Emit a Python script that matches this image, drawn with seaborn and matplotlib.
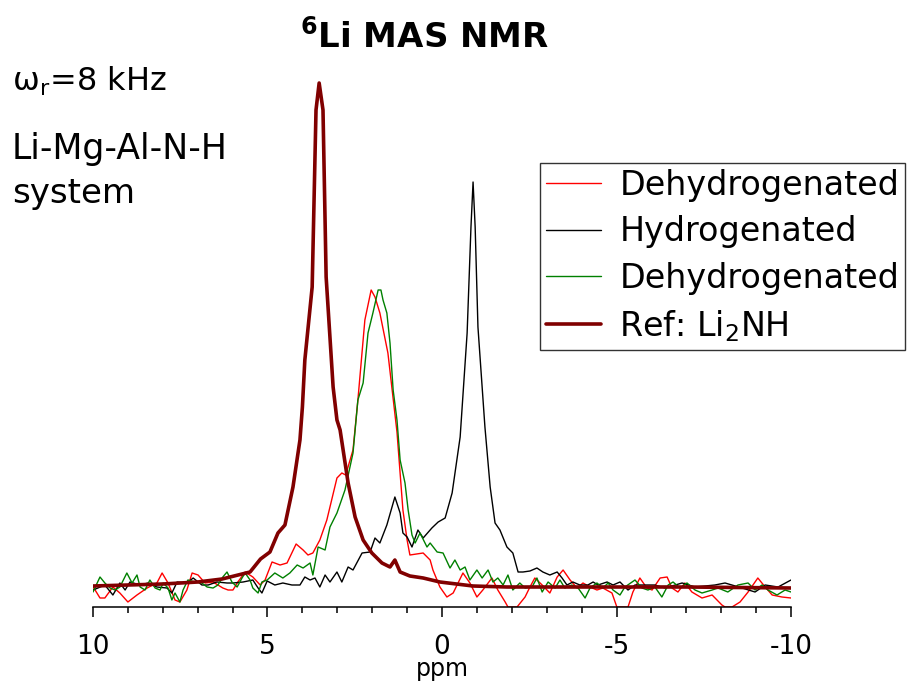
import matplotlib
matplotlib.use("Agg")
import matplotlib.pyplot as plt
import seaborn as sns
import pandas as pd
from matplotlib.ticker import MultipleLocator

# ---------------- data ----------------
red_ppm = [10.0, 9.94, 9.80, 9.66, 9.43, 9.23, 9.00, 8.74, 8.45, 8.17, 8.02, 7.85, 7.65, 7.51, 7.31, 7.16,
           6.99, 6.79, 6.56, 6.28, 6.13, 5.99, 5.85, 5.64, 5.42, 5.21, 5.07, 4.87, 4.64, 4.44, 4.18, 3.98,
           3.84, 3.70, 3.50, 3.30, 3.01, 2.87, 2.76, 2.55, 2.41, 2.21, 2.03, 1.92, 1.78, 1.55, 1.29, 1.12,
           1.00, 0.92, 0.54, 0.34, 0.26, 0.06, -0.14, -0.32, -0.60, -0.80, -1.00, -1.17, -1.43, -1.60,
           -1.81, -1.89, -2.15, -2.38, -2.52, -2.66, -2.87, -3.09, -3.30, -3.47, -3.67, -3.87, -4.04,
           -4.24, -4.44, -4.61, -4.87, -5.01, -5.33, -5.47, -5.67, -5.87, -6.02, -6.25, -6.45, -6.59,
           -6.76, -6.96, -7.16, -7.45, -7.74, -8.02, -8.11, -8.31, -8.54, -8.77, -9.05, -9.26, -9.46,
           -9.74, -10.0]
red_int = [0, -3, -11, -11, 0, -6, -15, -8, -1, 4, 14, 4, -13, -15, -3, 14,
           12, 4, 5, -1, -3, -3, 5, 15, 10, 2, 7, 25, 22, 24, 43, 37,
           32, 34, 47, 67, 109, 114, 112, 137, 187, 267, 297, 290, 274, 234, 155, 77,
           47, 32, 34, 27, 17, 0, -10, -6, 14, 4, -10, -3, 9, -3,
           -15, -20, -20, -10, 0, 9, 2, -6, 10, 17, 7, -1, 4,
           0, -3, -1, -6, -20, -20, -5, 9, -1, -3, 9, 10, -1,
           -5, 4, -5, -11, -8, -18, -20, -20, -15, -5, 9, 0, -8,
           -10, -11]

black_ppm = [10.0, 9.86, 9.66, 9.43, 9.23, 9.08, 8.94, 8.65, 8.42, 8.17, 7.88, 7.74, 7.59, 7.31, 7.13,
             6.88, 6.70, 6.45, 6.16, 5.99, 5.70, 5.42, 5.27, 5.16, 5.01, 4.79, 4.56, 4.30, 4.07, 3.93,
             3.78, 3.64, 3.50, 3.35, 3.21, 3.01, 2.87, 2.69, 2.55, 2.29, 2.06, 1.92, 1.78, 1.58, 1.35,
             1.20, 1.12, 1.00, 0.86, 0.69, 0.54, 0.29, 0.11, -0.09, -0.29, -0.52, -0.72, -0.83, -0.89,
             -0.95, -1.03, -1.23, -1.38, -1.52, -1.66, -1.86, -2.03, -2.18, -2.32, -2.52, -2.72, -2.89,
             -3.09, -3.30, -3.44, -3.58, -3.75, -3.95, -4.18, -4.33, -4.47, -4.73, -4.90, -5.10, -5.33,
             -5.53, -6.10, -6.39, -6.88, -7.25, -7.82, -8.11, -8.60, -8.97, -9.26, -9.63, -10.0]
black_int = [-3, -1, 2, -8, 4, -3, 5, 2, 4, 0, -1, -6, 5, 4, 9,
             2, 2, 5, 4, 4, 5, 7, -1, -6, 6, 2, 4, 2, 2, 10,
             7, 9, 0, 12, 5, 15, 5, 20, 17, 34, 35, 49, 44, 62, 90,
             74, 54, 50, 40, 57, 49, 59, 65, 69, 94, 150, 254, 360, 405,
             360, 260, 160, 100, 64, 57, 40, 34, 15, 15, 16, 19, 15,
             12, 15, 9, 2, 5, 2, 2, 5, 2, 5, 2, 5, -3,
             2, 2, -1, 4, 0, 2, 4, -1, -5, 2, 0, 7]

green_ppm = [10.0, 9.80, 9.66, 9.51, 9.37, 9.23, 9.03, 8.88, 8.74, 8.65,
             8.51, 8.37, 8.22, 8.08, 7.99, 7.85, 7.74, 7.65, 7.51, 7.42,
             7.28, 7.08, 6.88, 6.73, 6.56, 6.42, 6.28, 6.16, 6.02, 5.87,
             5.73, 5.64, 5.50, 5.42, 5.27, 5.16, 5.01, 4.79, 4.56, 4.36,
             4.15, 3.98, 3.78, 3.70, 3.55, 3.35, 3.21, 3.01, 2.78, 2.55,
             2.41, 2.26, 2.12, 1.98, 1.83, 1.75, 1.69, 1.58, 1.49, 1.40,
             1.29, 1.20, 1.06, 0.97, 0.86, 0.77, 0.63, 0.43, 0.34, 0.14,
             -0.03, -0.23, -0.37, -0.52, -0.66, -0.80, -1.00, -1.15, -1.32, -1.46,
             -1.60, -1.75, -1.89, -2.03, -2.23, -2.38, -2.58, -2.72, -2.87, -3.04,
             -3.24, -3.38, -3.52, -3.72, -3.90, -4.10, -4.24, -4.44, -4.61, -4.76,
             -4.90, -5.10, -5.24, -5.53, -5.73, -5.90, -6.10, -6.30, -6.48, -6.62,
             -6.82, -7.02, -7.25, -7.45, -7.74, -7.91, -8.19, -8.48, -8.77, -8.97,
             -9.17, -9.34, -9.60, -9.83, -10.0]
green_int = [-5, 10, 4, -1, -3, 0, 14, 4, 12, 0,
             -3, 7, -1, -3, 4, -1, -13, -6, -15, -3,
             7, 5, 4, 0, -1, 2, 10, 15, 5, 0,
             9, 14, 7, -1, -6, 5, 7, 14, 9, 14,
             22, 19, 24, 12, 40, 37, 60, 74, 97, 134,
             187, 204, 254, 274, 297, 297, 287, 274, 244, 197,
             167, 127, 104, 77, 52, 44, 54, 40, 44, 35,
             34, 19, 27, 17, 20, 7, 17, 9, 17, 5,
             9, 2, 12, -3, 4, -1, 0, 9, -5, 5,
             -1, 7, -1, 2, -1, -11, -1, 4, -1, 4,
             -3, -8, 0, 7, -1, -3, 0, -10, 2, 5,
             -1, 4, -3, -6, -3, -1, -5, 2, 4, -3,
             2, -3, -8, -3, -5]

ref_ppm = [10.0, 9.0, 8.0, 7.0, 6.3, 5.5, 5.2, 4.93, 4.7, 4.5,
           4.27, 4.07, 4.0, 3.93, 3.72, 3.61, 3.52, 3.41, 3.32, 3.12,
           3.01, 2.92, 2.69, 2.49, 2.26, 2.01, 1.72, 1.49, 1.35, 1.2,
           0.92, 0.54, 0.06, -0.89, -1.86, -3.0, -5.0, -7.0, -10.0]
ref_int = [1, 2, 3, 5, 8, 15, 28, 35, 54, 62,
           100, 147, 180, 227, 300, 477, 504, 477, 310, 200,
           167, 157, 104, 70, 47, 34, 24, 20, 27, 15,
           11, 9, 5, 1, 0, 0, 0, 0, -1]

labels = ["Dehydrogenated", "Hydrogenated", "Dehydrogenated", "Ref: Li$_2$NH"]
tick_values = [10, 5, 0, -5, -10]
tick_labels = ["10", "5", "0", "-5", "-10"]

# ---------------- style ----------------
sns.set_theme(style="white")
plt.rcParams["font.family"] = ["DejaVu Sans"]
plt.rcParams["axes.unicode_minus"] = False
plt.rcParams["mathtext.fontset"] = "dejavusans"
plt.rcParams["text.color"] = "black"
plt.rcParams["axes.labelcolor"] = "black"
plt.rcParams["xtick.color"] = "black"

W, H = 912, 681
fig = plt.figure(figsize=(W / 100, H / 100), dpi=100)
ax_left, ax_right, ax_bottom, ax_top = 93, 791, 607, 63
ax = fig.add_axes([ax_left / W, (H - ax_bottom) / H, (ax_right - ax_left) / W, (ax_bottom - ax_top) / H])

series = [
    (red_ppm, red_int, "#ff0000", 1.0, labels[0]),
    (black_ppm, black_int, "#000000", 1.0, labels[1]),
    (green_ppm, green_int, "#008000", 1.0, labels[2]),
    (ref_ppm, ref_int, "#800000", 2.6, labels[3]),
]
for xs, ys, col, lw, lab in series:
    df = pd.DataFrame({"ppm": xs, "intensity": ys})
    sns.lineplot(data=df, x="ppm", y="intensity", color=col, linewidth=lw,
                 label=lab, ax=ax, estimator=None, sort=False)

ax.set_xlim(10, -10)
ax.set_ylim(-20, 524)
for s in ["left", "top", "right"]:
    ax.spines[s].set_visible(False)
ax.spines["bottom"].set_color("black")
ax.spines["bottom"].set_linewidth(1.1)
ax.set_yticks([])
ax.set_ylabel("")
ax.set_xticks(tick_values)
ax.set_xticklabels(tick_labels)
ax.xaxis.set_minor_locator(MultipleLocator(1))
ax.tick_params(axis="x", which="major", direction="out", length=7, width=1.1,
               color="black", labelcolor="black", labelsize=19, pad=12.5, bottom=True)
ax.tick_params(axis="x", which="minor", direction="out", length=4.5, width=1.1,
               color="black", bottom=True)
ax.set_xlabel("ppm", fontsize=17, labelpad=-2.5, color="black")

# title and annotations
fig.text(425 / W, 1 - 47 / H, r"$\mathbf{^{6}}$Li MAS NMR", ha="center", va="baseline",
         fontsize=24.5, fontweight="bold", color="black")
fig.text(12 / W, 1 - 91 / H, r"ω$_\mathregular{r}$=8 kHz", ha="left", va="baseline",
         fontsize=23, color="black")
fig.text(12 / W, 1 - 159 / H, "Li-Mg-Al-N-H", ha="left", va="baseline", fontsize=25, color="black")
fig.text(12 / W, 1 - 203 / H, "system", ha="left", va="baseline", fontsize=24.5, color="black")

handles, labs = ax.get_legend_handles_labels()
leg = ax.legend(handles, labs, loc="upper left", bbox_to_anchor=(540 / W, 1 - 163 / H),
                bbox_transform=fig.transFigure, fontsize=24, frameon=True, fancybox=False,
                edgecolor="#333333", framealpha=1, borderpad=0.18, labelspacing=0.4,
                handlelength=1.65, handletextpad=0.55, borderaxespad=0)
leg.get_frame().set_linewidth(1.0)
for t in leg.get_texts():
    t.set_color("black")

fig.savefig("out.png", dpi=100)
